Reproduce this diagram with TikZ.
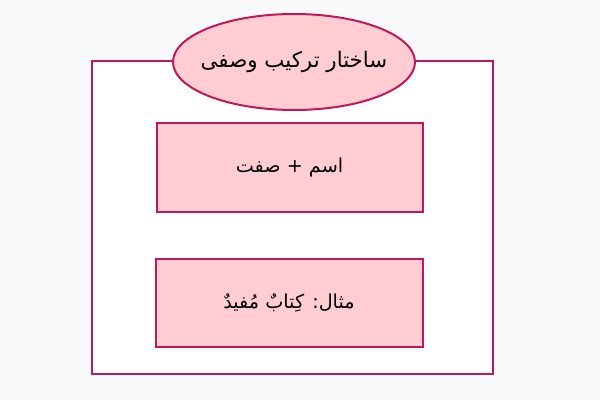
\documentclass[tikz,border=0pt]{standalone}
\usepackage{fontspec}
\TeXXeTstate=1
\newfontfamily\arabicfont[Script=Arabic]{DejaVu Sans}
\usetikzlibrary{shapes.geometric}
\definecolor{bd}{HTML}{C2185B}
\definecolor{fl}{HTML}{FFCDD2}
\definecolor{bg}{HTML}{F8F9FA}
\tikzset{
  boxst/.style={draw=bd, line width=1.5pt, fill=fl, rectangle, inner sep=0pt,
    font=\arabicfont\fontsize{14.4}{17}\selectfont, text=black},
  titlest/.style={ellipse, draw=bd, line width=1.5pt, fill=fl, inner sep=0pt},
  titletext/.style={font=\arabicfont\fontsize{16}{19}\selectfont, text=black}
}
\begin{document}
\begin{tikzpicture}[x=0.75pt,y=-0.75pt]
\fill[bg] (0,0) rectangle (600,400);
\useasboundingbox (0,0) rectangle (600,400);
\draw[draw=bd, line width=1.5pt, fill=white] (92,61) rectangle (493,374);
\node[boxst, minimum width=266*0.75pt, minimum height=89*0.75pt] (b1) at (289.5,167.5) {\beginR اسم + صفت\endR};
\node[boxst, minimum width=267*0.75pt, minimum height=88*0.75pt] (b2) at (289,303) {\beginR مثال: کِتابٌ مُفیدٌ\endR};
\node[titlest, minimum width=242*0.75pt, minimum height=96*0.75pt] (t) at (294,62) {};
\node[titletext] (tt) at (t.center) {\beginR ساختار ترکیب وصفی\endR};
\end{tikzpicture}
\end{document}
